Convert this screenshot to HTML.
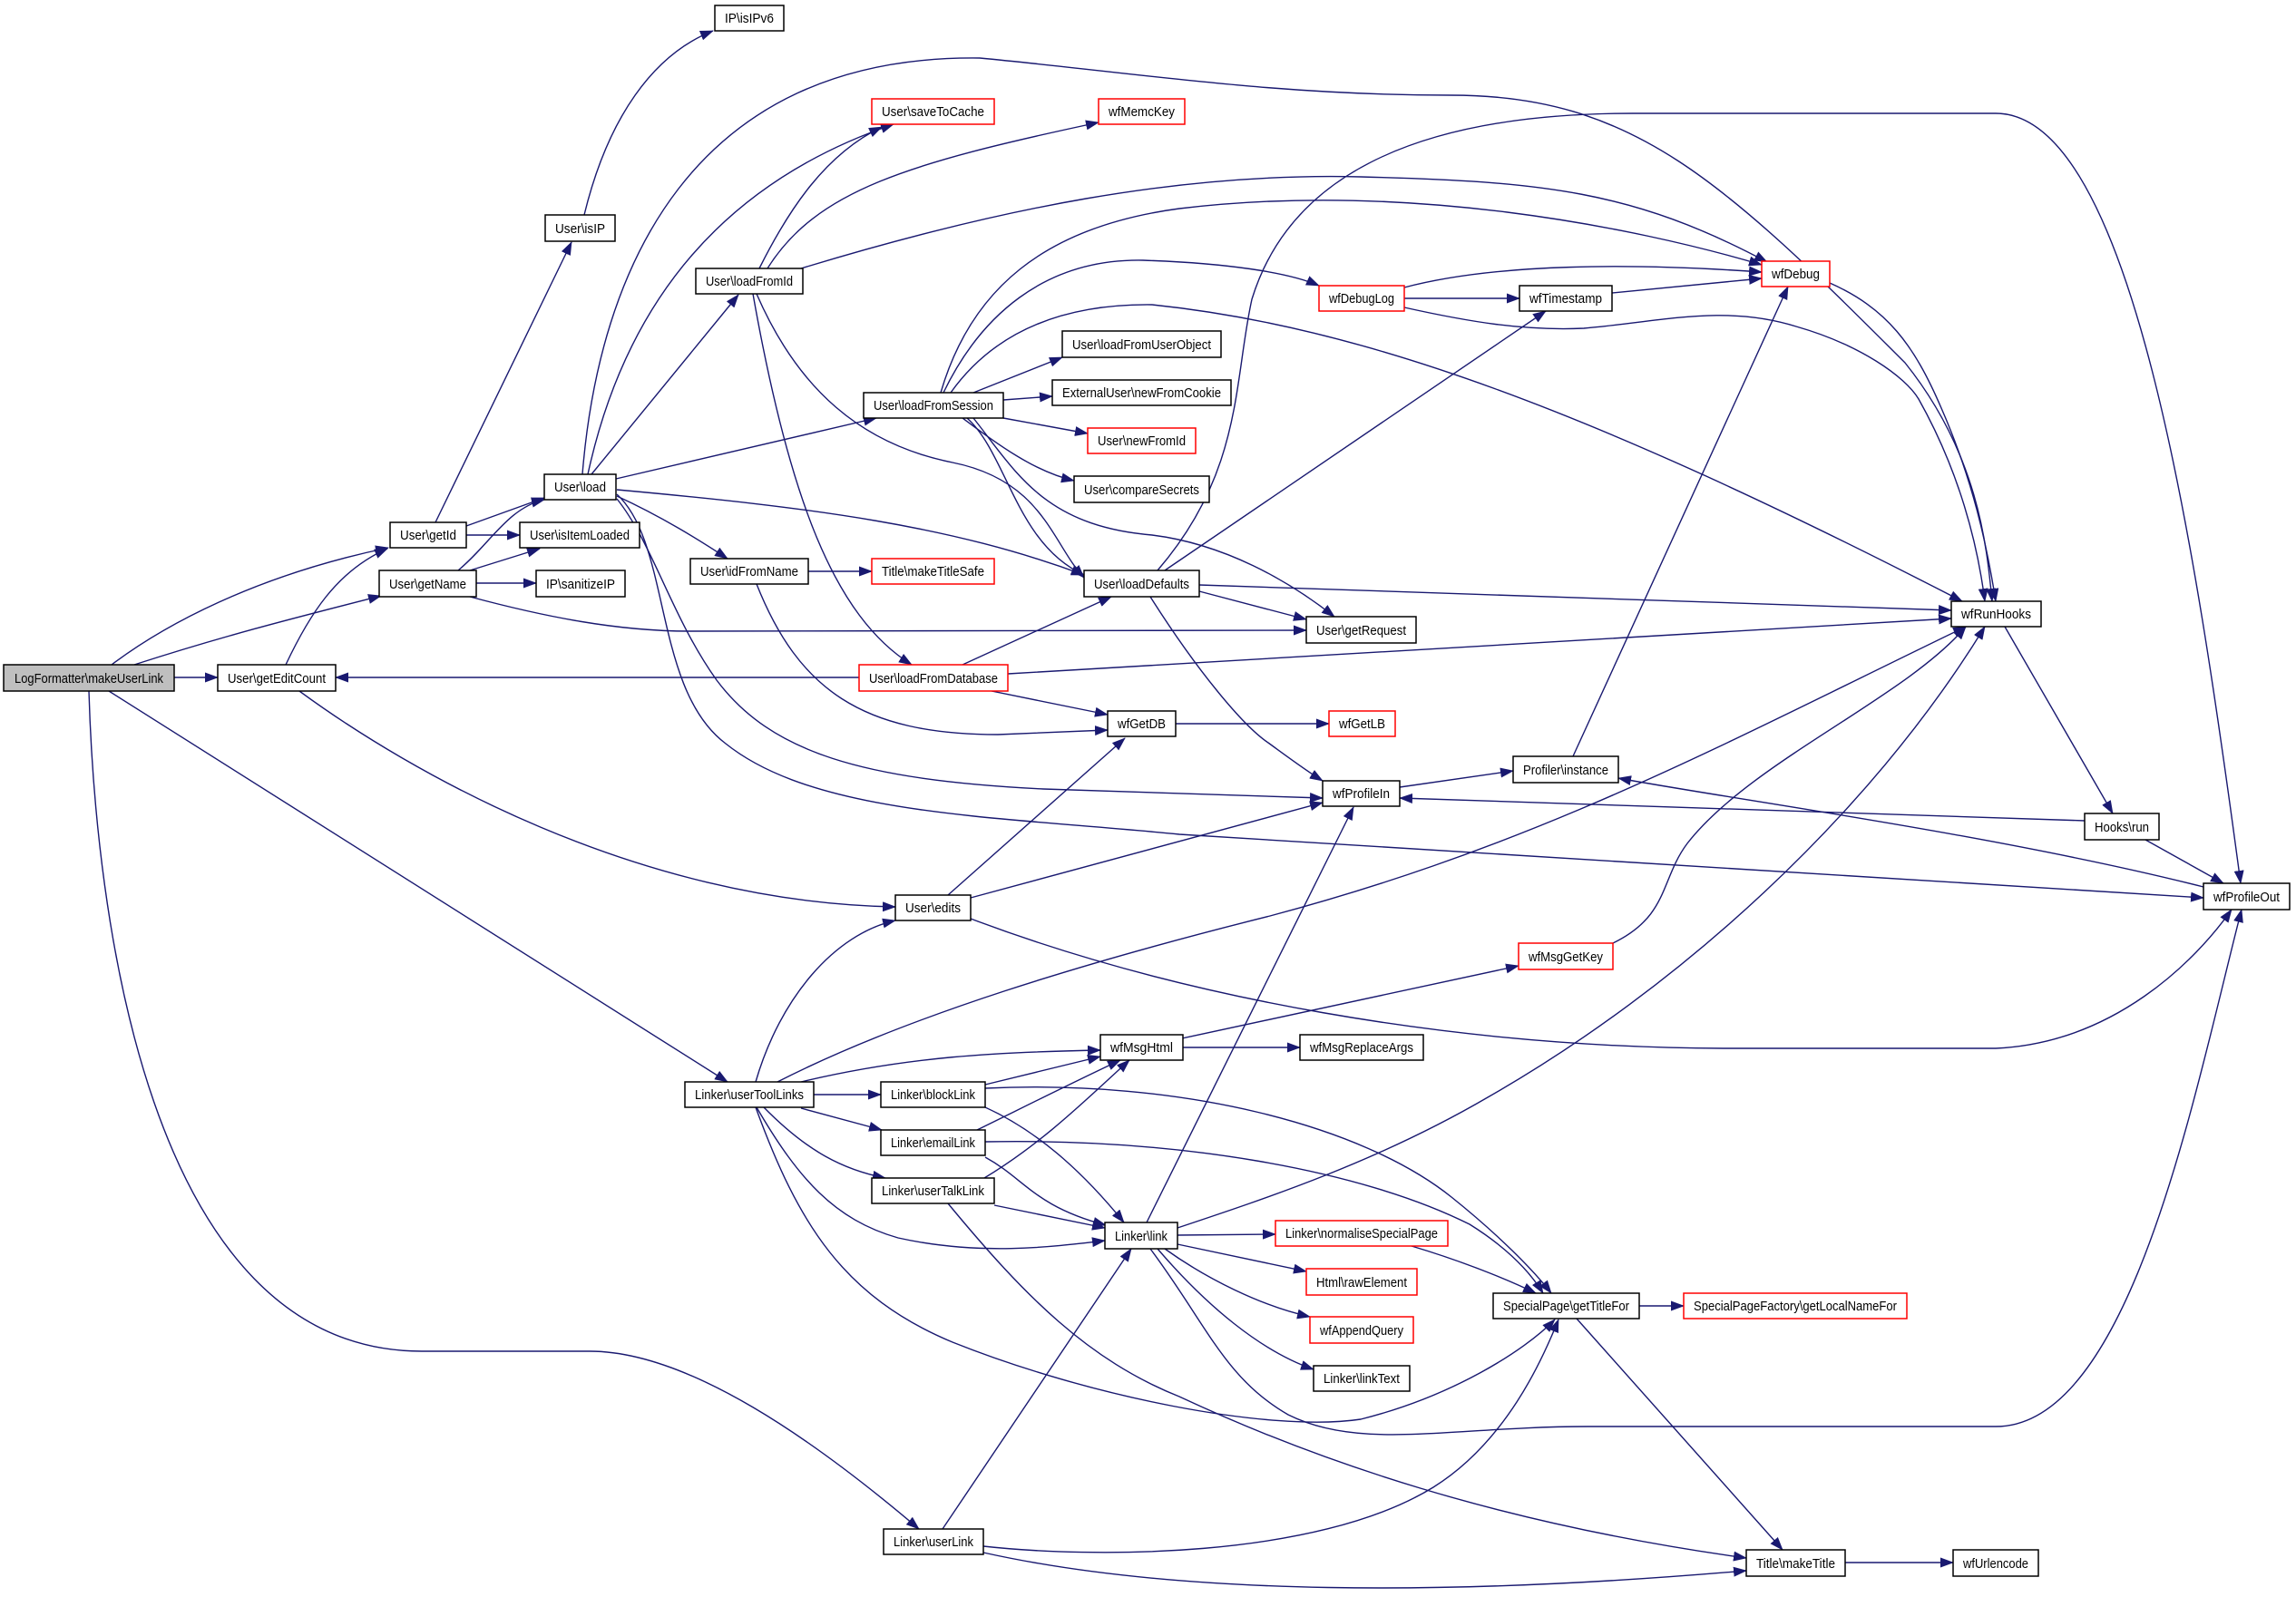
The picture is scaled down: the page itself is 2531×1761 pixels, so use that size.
<!DOCTYPE html>
<html><head><meta charset="utf-8"><style>
html,body{margin:0;padding:0;background:#fff}
svg{display:block}
.e{fill:none;stroke:#191970;stroke-width:1.4;marker-end:url(#a)}
.n{fill:#fff;stroke:#000;stroke-width:1.5}
.r{fill:#fff;stroke:#ff0000;stroke-width:1.5}
text{font-family:"Liberation Sans",sans-serif;font-size:15px;fill:#000;text-anchor:middle}
</style></head><body>
<svg width="2531" height="1761" viewBox="0 0 2531 1761" xmlns="http://www.w3.org/2000/svg">
<defs><marker id="a" markerUnits="userSpaceOnUse" markerWidth="15" markerHeight="11" refX="14" refY="5.5" orient="auto"><path d="M0,0 L15,5.5 L0,11 z" fill="#191970"/></marker></defs>
<g>
<path class="e" d="M123,733 C180,690 280,635 428,604"/>
<path class="e" d="M148,733 C250,700 330,680 420,657"/>
<path class="e" d="M192,747 L240,747"/>
<path class="e" d="M120,762 L802,1193"/>
<path class="e" d="M98,762 C105,1000 160,1490 465,1490 L650,1490 C760,1490 900,1590 1013,1686"/>
<path class="e" d="M315,733 C340,680 370,630 427,605"/>
<path class="e" d="M330,762 C450,850 700,995 987,1000"/>
<path class="e" d="M514,580 L600,549"/>
<path class="e" d="M514,590 L573,590"/>
<path class="e" d="M480,576 L630,267"/>
<path class="e" d="M505,629 C540,600 560,560 600,551"/>
<path class="e" d="M518,629 L595,605"/>
<path class="e" d="M525,643 L591,643"/>
<path class="e" d="M518,658 C600,680 680,696 760,696 L1440,695"/>
<path class="e" d="M644,237 C670,130 720,60 786,34"/>
<path class="e" d="M652,523 L814,325"/>
<path class="e" d="M648,523 C690,330 800,200 985,137"/>
<path class="e" d="M642,523 C660,300 760,60 1080,64 C1250,80 1400,105 1600,105 C1800,105 1900,200 2100,400 C2180,500 2190,600 2196,663"/>
<path class="e" d="M679,528 L966,461"/>
<path class="e" d="M680,540 C900,560 1050,580 1195,634"/>
<path class="e" d="M680,547 C730,570 770,595 802,616"/>
<path class="e" d="M680,550 C720,600 740,680 790,750 C850,830 950,860 1150,870 L1458,880"/>
<path class="e" d="M680,545 C740,600 720,760 800,820 C900,900 1100,900 1300,920 L2429,990"/>
<path class="e" d="M837,296 C870,230 910,170 972,140"/>
<path class="e" d="M846,296 C900,210 1000,180 1211,135"/>
<path class="e" d="M883,296 C1100,230 1300,190 1500,195 C1700,200 1800,210 1948,289"/>
<path class="e" d="M830,324 C870,550 920,680 1005,733"/>
<path class="e" d="M834,324 C880,430 950,490 1050,510 C1150,530 1160,600 1195,637"/>
<path class="e" d="M1037,433 C1070,320 1150,250 1300,230 C1550,200 1800,250 1942,292"/>
<path class="e" d="M1040,433 C1080,350 1150,285 1260,287 C1350,290 1420,300 1454,315"/>
<path class="e" d="M1048,433 C1100,360 1180,335 1270,336 C1500,360 1750,450 2163,663"/>
<path class="e" d="M1073,433 L1171,394"/>
<path class="e" d="M1106,441 L1160,437"/>
<path class="e" d="M1106,461 L1199,478"/>
<path class="e" d="M1061,461 C1100,490 1140,520 1184,530"/>
<path class="e" d="M1066,461 C1110,500 1120,600 1195,634"/>
<path class="e" d="M1073,461 C1120,520 1150,580 1270,590 C1350,600 1420,640 1471,680"/>
<path class="e" d="M891,630 L961,630"/>
<path class="e" d="M834,644 C880,760 950,810 1100,810 L1221,805"/>
<path class="e" d="M947,747 L370,747"/>
<path class="e" d="M1061,733 L1225,658"/>
<path class="e" d="M1111,743 C1500,720 1900,700 2151,682"/>
<path class="e" d="M1093,762 L1221,788"/>
<path class="e" d="M1322,645 L2151,673"/>
<path class="e" d="M1322,652 L1440,683"/>
<path class="e" d="M1268,658 C1320,740 1370,800 1398,819 C1420,835 1440,850 1458,861"/>
<path class="e" d="M1284,629 L1704,343"/>
<path class="e" d="M1276,629 C1370,520 1360,420 1380,330 C1420,200 1550,125 1800,125 L2200,125 C2350,125 2420,600 2470,974"/>
<path class="e" d="M1548,329 L1675,329"/>
<path class="e" d="M1548,317 C1650,290 1800,290 1942,300"/>
<path class="e" d="M1548,339 C1620,355 1680,365 1746,362 C1830,355 1900,335 1980,360 C2050,380 2100,415 2115,440 C2160,520 2180,600 2188,663"/>
<path class="e" d="M1777,323 L1942,307"/>
<path class="e" d="M2017,312 C2080,340 2110,380 2140,450 C2175,530 2190,600 2200,663"/>
<path class="e" d="M1296,798 L1465,798"/>
<path class="e" d="M1734,834 L1971,316"/>
<path class="e" d="M1543,868 L1668,850"/>
<path class="e" d="M2210,691 L2329,897"/>
<path class="e" d="M2298,905 L1543,880"/>
<path class="e" d="M2365,926 L2451,974"/>
<path class="e" d="M2429,978 C2200,920 1900,880 1784,858"/>
<path class="e" d="M1045,987 L1240,814"/>
<path class="e" d="M1070,990 L1458,885"/>
<path class="e" d="M1070,1013 C1300,1100 1600,1155 1900,1156 L2200,1156 C2330,1150 2420,1060 2460,1003"/>
<path class="e" d="M833,1193 C860,1100 920,1030 987,1015"/>
<path class="e" d="M857,1193 C1000,1120 1200,1060 1400,1010 C1700,930 1900,820 2167,691"/>
<path class="e" d="M883,1193 C1000,1165 1100,1160 1213,1158"/>
<path class="e" d="M897,1207 L971,1207"/>
<path class="e" d="M883,1222 L972,1246"/>
<path class="e" d="M842,1221 C890,1270 930,1290 976,1299"/>
<path class="e" d="M834,1221 C880,1300 920,1345 990,1365 C1080,1385 1160,1375 1218,1368"/>
<path class="e" d="M833,1221 C880,1350 930,1430 1050,1480 C1200,1540 1400,1580 1500,1565 C1600,1540 1680,1490 1714,1455"/>
<path class="e" d="M1086,1196 L1213,1165"/>
<path class="e" d="M1086,1200 C1300,1190 1500,1240 1600,1320 C1650,1360 1690,1400 1710,1426"/>
<path class="e" d="M1086,1221 C1150,1250 1200,1300 1239,1348"/>
<path class="e" d="M1077,1246 C1130,1220 1190,1190 1235,1169"/>
<path class="e" d="M1086,1259 C1300,1255 1500,1290 1620,1350 C1660,1375 1685,1400 1701,1426"/>
<path class="e" d="M1086,1276 C1130,1300 1140,1330 1219,1351"/>
<path class="e" d="M1085,1299 C1150,1260 1200,1210 1245,1169"/>
<path class="e" d="M1096,1329 L1218,1354"/>
<path class="e" d="M1045,1327 C1130,1430 1200,1500 1300,1540 C1450,1610 1650,1680 1925,1718"/>
<path class="e" d="M1264,1348 L1492,890"/>
<path class="e" d="M1298,1354 C1400,1320 1520,1280 1640,1210 C1850,1090 2060,900 2188,691"/>
<path class="e" d="M1298,1362 L1406,1361"/>
<path class="e" d="M1298,1372 L1440,1402"/>
<path class="e" d="M1284,1377 C1330,1410 1390,1440 1444,1452"/>
<path class="e" d="M1276,1377 C1330,1440 1390,1490 1448,1510"/>
<path class="e" d="M1268,1377 C1330,1460 1350,1520 1420,1560 C1500,1600 1600,1573 1750,1573 L2200,1573 C2350,1573 2420,1200 2471,1003"/>
<path class="e" d="M1556,1374 C1610,1390 1660,1410 1693,1426"/>
<path class="e" d="M1304,1155 L1433,1155"/>
<path class="e" d="M1303,1145 L1674,1065"/>
<path class="e" d="M1778,1040 C1840,1010 1830,970 1860,930 C1930,840 2100,770 2167,691"/>
<path class="e" d="M1807,1440 L1856,1440"/>
<path class="e" d="M1738,1454 L1965,1709"/>
<path class="e" d="M2034,1723 L2153,1723"/>
<path class="e" d="M1039,1686 L1247,1377"/>
<path class="e" d="M1084,1705 C1200,1718 1450,1720 1580,1640 C1660,1590 1700,1500 1718,1455"/>
<path class="e" d="M1084,1712 C1300,1760 1600,1760 1925,1732"/>
</g>
<g>
<rect x="4" y="733" width="188" height="29" fill="#bfbfbf" stroke="#000" stroke-width="1.5"/><text x="98" y="753" textLength="164" lengthAdjust="spacingAndGlyphs">LogFormatter\makeUserLink</text>
<rect class="n" x="240" y="733" width="130" height="29"/><text x="305" y="753" textLength="108" lengthAdjust="spacingAndGlyphs">User\getEditCount</text>
<rect class="n" x="430" y="576" width="84" height="28"/><text x="472" y="595" textLength="62" lengthAdjust="spacingAndGlyphs">User\getId</text>
<rect class="n" x="418" y="629" width="107" height="29"/><text x="471.5" y="649" textLength="85" lengthAdjust="spacingAndGlyphs">User\getName</text>
<rect class="n" x="573" y="576" width="132" height="28"/><text x="639" y="595" textLength="110" lengthAdjust="spacingAndGlyphs">User\isItemLoaded</text>
<rect class="n" x="591" y="629" width="98" height="29"/><text x="640" y="649" textLength="76" lengthAdjust="spacingAndGlyphs">IP\sanitizeIP</text>
<rect class="n" x="600" y="523" width="79" height="28"/><text x="639.5" y="542" textLength="57" lengthAdjust="spacingAndGlyphs">User\load</text>
<rect class="n" x="601" y="237" width="77" height="29"/><text x="639.5" y="257" textLength="55" lengthAdjust="spacingAndGlyphs">User\isIP</text>
<rect class="n" x="788" y="6" width="76" height="28"/><text x="826" y="25" textLength="54" lengthAdjust="spacingAndGlyphs">IP\isIPv6</text>
<rect class="n" x="767" y="296" width="118" height="28"/><text x="826" y="315" textLength="96" lengthAdjust="spacingAndGlyphs">User\loadFromId</text>
<rect class="r" x="961" y="109" width="135" height="28"/><text x="1028.5" y="128" textLength="113" lengthAdjust="spacingAndGlyphs">User\saveToCache</text>
<rect class="r" x="1211" y="109" width="95" height="28"/><text x="1258.5" y="128" textLength="73" lengthAdjust="spacingAndGlyphs">wfMemcKey</text>
<rect class="n" x="952" y="433" width="154" height="28"/><text x="1029" y="452" textLength="132" lengthAdjust="spacingAndGlyphs">User\loadFromSession</text>
<rect class="n" x="761" y="616" width="130" height="28"/><text x="826" y="635" textLength="108" lengthAdjust="spacingAndGlyphs">User\idFromName</text>
<rect class="r" x="961" y="616" width="135" height="28"/><text x="1028.5" y="635" textLength="113" lengthAdjust="spacingAndGlyphs">Title\makeTitleSafe</text>
<rect class="r" x="947" y="733" width="164" height="29"/><text x="1029" y="753" textLength="142" lengthAdjust="spacingAndGlyphs">User\loadFromDatabase</text>
<rect class="n" x="1171" y="365" width="175" height="29"/><text x="1258.5" y="385" textLength="153" lengthAdjust="spacingAndGlyphs">User\loadFromUserObject</text>
<rect class="n" x="1160" y="419" width="197" height="28"/><text x="1258.5" y="438" textLength="175" lengthAdjust="spacingAndGlyphs">ExternalUser\newFromCookie</text>
<rect class="r" x="1199" y="472" width="119" height="28"/><text x="1258.5" y="491" textLength="97" lengthAdjust="spacingAndGlyphs">User\newFromId</text>
<rect class="n" x="1184" y="525" width="149" height="29"/><text x="1258.5" y="545" textLength="127" lengthAdjust="spacingAndGlyphs">User\compareSecrets</text>
<rect class="n" x="1195" y="629" width="127" height="29"/><text x="1258.5" y="649" textLength="105" lengthAdjust="spacingAndGlyphs">User\loadDefaults</text>
<rect class="n" x="1221" y="784" width="75" height="28"/><text x="1258.5" y="803" textLength="53" lengthAdjust="spacingAndGlyphs">wfGetDB</text>
<rect class="n" x="1440" y="680" width="121" height="29"/><text x="1500.5" y="700" textLength="99" lengthAdjust="spacingAndGlyphs">User\getRequest</text>
<rect class="r" x="1454" y="315" width="94" height="28"/><text x="1501" y="334" textLength="72" lengthAdjust="spacingAndGlyphs">wfDebugLog</text>
<rect class="n" x="1675" y="315" width="102" height="28"/><text x="1726" y="334" textLength="80" lengthAdjust="spacingAndGlyphs">wfTimestamp</text>
<rect class="r" x="1942" y="288" width="75" height="28"/><text x="1979.5" y="307" textLength="53" lengthAdjust="spacingAndGlyphs">wfDebug</text>
<rect class="n" x="2151" y="663" width="99" height="28"/><text x="2200.5" y="682" textLength="77" lengthAdjust="spacingAndGlyphs">wfRunHooks</text>
<rect class="r" x="1465" y="784" width="73" height="28"/><text x="1501.5" y="803" textLength="51" lengthAdjust="spacingAndGlyphs">wfGetLB</text>
<rect class="n" x="1668" y="834" width="116" height="29"/><text x="1726" y="854" textLength="94" lengthAdjust="spacingAndGlyphs">Profiler\instance</text>
<rect class="n" x="1458" y="861" width="85" height="28"/><text x="1500.5" y="880" textLength="63" lengthAdjust="spacingAndGlyphs">wfProfileIn</text>
<rect class="n" x="2298" y="897" width="82" height="29"/><text x="2339" y="917" textLength="60" lengthAdjust="spacingAndGlyphs">Hooks\run</text>
<rect class="n" x="2429" y="974" width="95" height="29"/><text x="2476.5" y="994" textLength="73" lengthAdjust="spacingAndGlyphs">wfProfileOut</text>
<rect class="r" x="1674" y="1040" width="104" height="29"/><text x="1726" y="1060" textLength="82" lengthAdjust="spacingAndGlyphs">wfMsgGetKey</text>
<rect class="n" x="987" y="987" width="83" height="28"/><text x="1028.5" y="1006" textLength="61" lengthAdjust="spacingAndGlyphs">User\edits</text>
<rect class="n" x="755" y="1193" width="142" height="28"/><text x="826" y="1212" textLength="120" lengthAdjust="spacingAndGlyphs">Linker\userToolLinks</text>
<rect class="n" x="1213" y="1141" width="91" height="28"/><text x="1258.5" y="1160" textLength="69" lengthAdjust="spacingAndGlyphs">wfMsgHtml</text>
<rect class="n" x="1433" y="1141" width="136" height="28"/><text x="1501" y="1160" textLength="114" lengthAdjust="spacingAndGlyphs">wfMsgReplaceArgs</text>
<rect class="n" x="971" y="1193" width="115" height="28"/><text x="1028.5" y="1212" textLength="93" lengthAdjust="spacingAndGlyphs">Linker\blockLink</text>
<rect class="n" x="971" y="1246" width="115" height="28"/><text x="1028.5" y="1265" textLength="93" lengthAdjust="spacingAndGlyphs">Linker\emailLink</text>
<rect class="n" x="961" y="1299" width="135" height="28"/><text x="1028.5" y="1318" textLength="113" lengthAdjust="spacingAndGlyphs">Linker\userTalkLink</text>
<rect class="n" x="1218" y="1348" width="80" height="29"/><text x="1258" y="1368" textLength="58" lengthAdjust="spacingAndGlyphs">Linker\link</text>
<rect class="r" x="1406" y="1346" width="190" height="28"/><text x="1501" y="1365" textLength="168" lengthAdjust="spacingAndGlyphs">Linker\normaliseSpecialPage</text>
<rect class="r" x="1440" y="1399" width="122" height="29"/><text x="1501" y="1419" textLength="100" lengthAdjust="spacingAndGlyphs">Html\rawElement</text>
<rect class="r" x="1444" y="1452" width="114" height="29"/><text x="1501" y="1472" textLength="92" lengthAdjust="spacingAndGlyphs">wfAppendQuery</text>
<rect class="n" x="1448" y="1506" width="106" height="28"/><text x="1501" y="1525" textLength="84" lengthAdjust="spacingAndGlyphs">Linker\linkText</text>
<rect class="n" x="1646" y="1426" width="161" height="28"/><text x="1726.5" y="1445" textLength="139" lengthAdjust="spacingAndGlyphs">SpecialPage\getTitleFor</text>
<rect class="r" x="1856" y="1426" width="246" height="28"/><text x="1979" y="1445" textLength="224" lengthAdjust="spacingAndGlyphs">SpecialPageFactory\getLocalNameFor</text>
<rect class="n" x="1925" y="1709" width="109" height="29"/><text x="1979.5" y="1729" textLength="87" lengthAdjust="spacingAndGlyphs">Title\makeTitle</text>
<rect class="n" x="2153" y="1709" width="94" height="29"/><text x="2200" y="1729" textLength="72" lengthAdjust="spacingAndGlyphs">wfUrlencode</text>
<rect class="n" x="974" y="1686" width="110" height="28"/><text x="1029" y="1705" textLength="88" lengthAdjust="spacingAndGlyphs">Linker\userLink</text>
</g>
</svg>
</body></html>
